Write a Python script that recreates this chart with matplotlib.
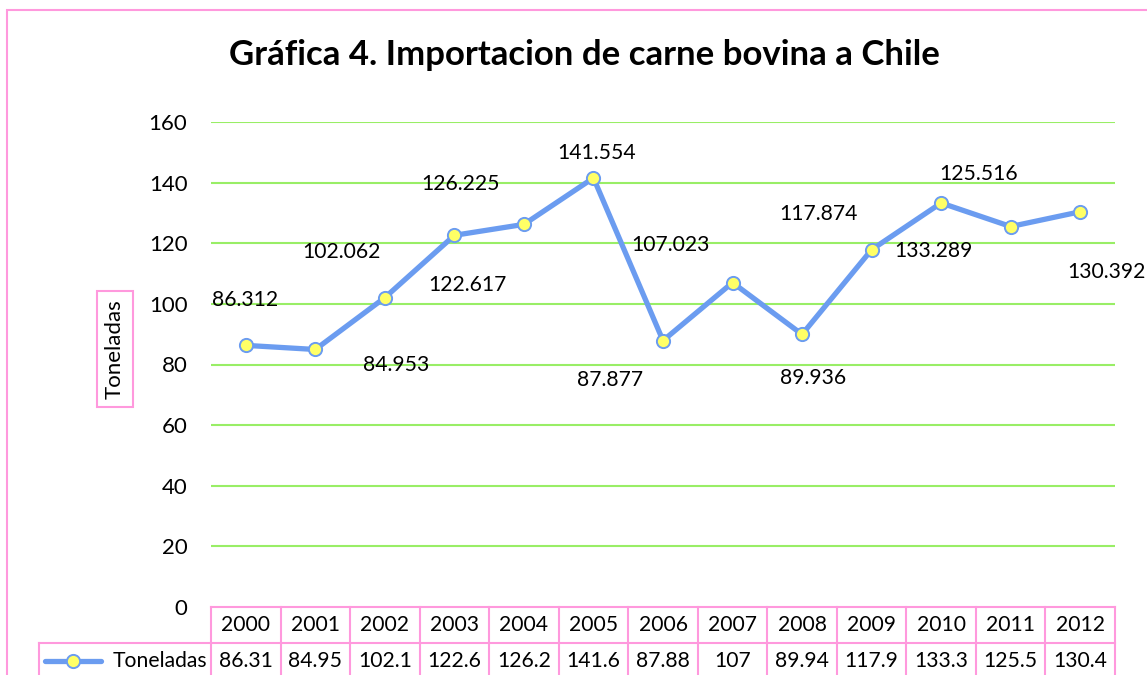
import matplotlib
matplotlib.use("Agg")
import matplotlib.pyplot as plt
from matplotlib.patches import Rectangle

plt.rcParams["font.family"] = ["Lato", "DejaVu Sans"]

years = ["2000", "2001", "2002", "2003", "2004", "2005", "2006",
         "2007", "2008", "2009", "2010", "2011", "2012"]
toneladas = [86.312, 84.953, 102.062, 122.617, 126.225, 141.554, 87.877,
             107.023, 89.936, 117.874, 133.289, 125.516, 130.392]
table_text = ["86.31", "84.95", "102.1", "122.6", "126.2", "141.6", "87.88",
              "107", "89.94", "117.9", "133.3", "125.5", "130.4"]
# where each value label sits relative to its point (pixels, x right / y up)
label_offsets = [(-1, 45), (81, -16), (-43, 46), (13, -50), (-63, 40), (3, 25),
                 (-53, -39), (-62, 38), (11, -44), (-53, 36), (-8, -48),
                 (-32, 53), (26, -60)]

W, H = 1147, 675
LINE = "#6b9cf0"
GRID = "#99ee66"
PINK = "#ff99dd"
FS = 15.2

fig = plt.figure(figsize=(W / 100, H / 100), dpi=100)
ax = fig.add_axes([211 / W, 1 - 607 / H, (1115 - 211) / W, (607 - 122) / H])

x = list(range(len(years)))
ax.plot(x, toneladas, color=LINE, lw=3.8, marker="o", ms=9.5,
        mfc="#ffff66", mec=LINE, mew=1.4, zorder=3, clip_on=False)

for xi, v, (dx, dy) in zip(x, toneladas, label_offsets):
    ax.annotate(f"{v:.3f}", (xi, v), xytext=(dx, dy), textcoords="offset pixels",
                ha="center", va="center", fontsize=FS, zorder=4)

ax.set_xlim(-0.5, len(years) - 0.5)
ax.set_ylim(0, 160)
ax.set_yticks(range(0, 161, 20))
ax.tick_params(axis="y", length=0, pad=17, labelsize=16)
ax.set_xticks([])
for s in ax.spines.values():
    s.set_visible(False)
for yv in range(20, 161, 20):
    ax.axhline(yv, color=GRID, lw=1.5, zorder=1)

# data table under the plot
tr = ax.get_xaxis_transform()
row_h = 36 / (607 - 122)
y_top, y_mid, y_bot = 0, -row_h, -2.2 * row_h
left_cell = -0.5 - (211 - 39) / ((1115 - 211) / len(years))
tbl = dict(color=PINK, lw=1.5, transform=tr, clip_on=False, zorder=2)
ax.plot([-0.5, len(years) - 0.5], [y_top, y_top], **tbl)
ax.plot([left_cell, len(years) - 0.5], [y_mid, y_mid], **tbl)
for k in range(len(years) + 1):
    ax.plot([k - 0.5, k - 0.5], [y_top, y_bot], **tbl)
ax.plot([left_cell, left_cell], [y_mid, y_bot], **tbl)
for xi, yr, t in zip(x, years, table_text):
    ax.text(xi, -row_h / 2, yr, transform=tr, ha="center", va="center",
            fontsize=FS)
    ax.text(xi, -row_h * 1.5, t, transform=tr, ha="center", va="center",
            fontsize=FS)
ax.text(-0.56, -row_h * 1.5, "Toneladas", transform=tr, ha="right",
        va="center", fontsize=FS)
leg_x = left_cell + 0.09
ax.plot([leg_x, leg_x + 0.8], [-row_h * 1.5] * 2, color=LINE, lw=3.8,
        transform=tr, clip_on=False, solid_capstyle="round")
ax.plot([leg_x + 0.4], [-row_h * 1.5], marker="o", ms=9.5, mfc="#ffff66",
        mec=LINE, mew=1.4, transform=tr, clip_on=False)

fig.text(115 / W, 1 - 349 / H, "Toneladas", rotation=90, ha="center",
         va="center", fontsize=16,
         bbox=dict(boxstyle="square,pad=0.35", fc="white", ec=PINK, lw=1.5))

fig.text(584 / W, 1 - 55 / H, "Gráfica 4. Importacion de carne bovina a Chile",
         ha="center", va="center", fontsize=25, fontweight="bold")

# outer frame
fig.add_artist(Rectangle((7 / W, -0.2), 1.2, 1.2 - 10 / H, transform=fig.transFigure,
                         fill=False, ec=PINK, lw=1.5))

fig.savefig("out.png", dpi=100)
